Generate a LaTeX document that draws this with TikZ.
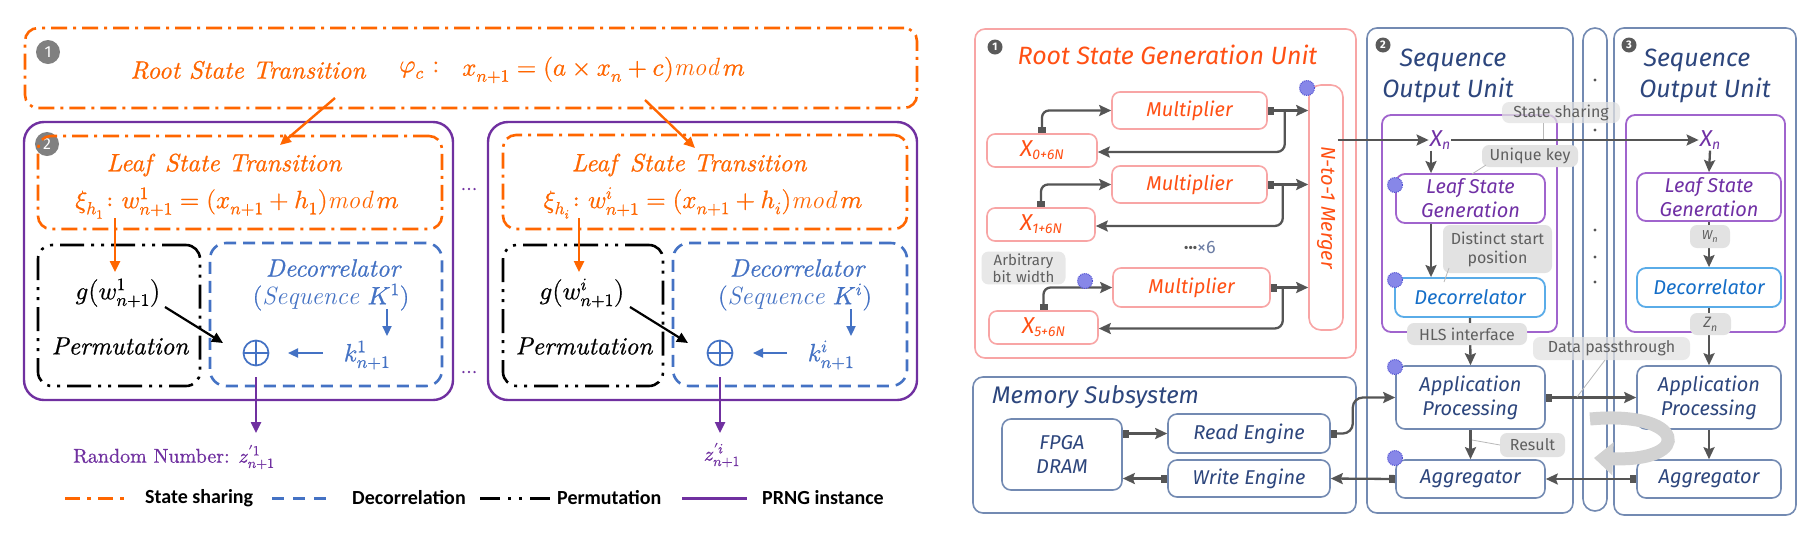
\documentclass[tikz,border=0pt]{standalone}
\usepackage{amsmath}
\usepackage{fontspec}
\usepackage{unicode-math}
\setmathfont{latinmodern-math.otf}[FakeBold=0.7]
\newfontfamily\lft{lmroman10-regular.otf}[ItalicFont=lmroman10-italic.otf, FakeBold=0.7]
\newfontfamily\legendfont{Carlito}
\newfontfamily\rfont{Fira Sans}
\usetikzlibrary{arrows.meta,calc}

\definecolor{lorange}{RGB}{255,102,0}
\definecolor{lpurple}{RGB}{112,48,160}
\definecolor{lblue}{RGB}{68,114,196}
\definecolor{rorange}{RGB}{255,80,20}
\definecolor{rpink}{RGB}{248,165,165}
\definecolor{rnavy}{RGB}{45,70,125}
\definecolor{rframe}{RGB}{115,138,178}
\definecolor{rpurple}{RGB}{160,100,205}
\definecolor{rpurtext}{RGB}{112,48,165}
\definecolor{rdecb}{RGB}{90,172,232}
\definecolor{rdect}{RGB}{20,110,200}
\definecolor{rgrayl}{RGB}{85,85,85}
\definecolor{callfill}{RGB}{226,226,226}
\definecolor{calltext}{RGB}{95,95,95}
\definecolor{badgeg}{RGB}{128,128,128}
\definecolor{rbadgec}{RGB}{90,90,90}
\definecolor{gearb}{RGB}{135,135,232}
\definecolor{gearl}{RGB}{80,80,210}

\tikzset{
  wh/.style 2 args={minimum width=#1pt, minimum height=#2pt, inner sep=0pt},
  ltext/.style={font=\lft\fontsize{25}{30}\selectfont, inner sep=1pt},
  ltexts/.style={font=\lft\fontsize{20}{24}\selectfont, inner sep=1pt},
  rootbox/.style={draw=lorange, line width=2.6pt, dash pattern=on 16pt off 6pt on 3pt off 6pt, rounded corners=13pt},
  instbox/.style={draw=lpurple, line width=2.4pt, rounded corners=20pt},
  permbox/.style={draw=black, line width=2.6pt, dash pattern=on 24pt off 7pt on 3pt off 7pt on 3pt off 7pt, rounded corners=14pt},
  decbox/.style={draw=lblue, line width=2.6pt, dash pattern=on 12pt off 7pt, rounded corners=16pt},
  oarr/.style={draw=lorange, line width=2.4pt, -{Triangle[length=11pt,width=10pt]}},
  barr/.style={draw=lblue, line width=2.2pt, -{Triangle[length=10pt,width=9pt]}},
  karr/.style={draw=black, line width=2.2pt, -{Triangle[length=11pt,width=10pt]}},
  parr/.style={draw=lpurple, line width=2.4pt, -{Triangle[length=11pt,width=10pt]}},
  lbadge/.style={circle, fill=badgeg, text=white, minimum size=24pt, inner sep=0pt, font=\rfont\fontsize{16}{16}\selectfont},
  xorn/.style={circle, draw=lblue, line width=1.7pt, minimum size=25pt, inner sep=0pt,
    path picture={\draw[lblue, line width=1.7pt] (path picture bounding box.north) -- (path picture bounding box.south) (path picture bounding box.west) -- (path picture bounding box.east);}},
  legtext/.style={font=\legendfont\bfseries\fontsize{20}{24}\selectfont, anchor=west, inner sep=0pt},
  pinkbox/.style={draw=rpink, line width=1.6pt, rounded corners=8pt},
  framebox/.style={draw=rframe, line width=1.6pt, rounded corners=9pt},
  purbox/.style={draw=rpurple, line width=1.8pt, rounded corners=9pt},
  decrbox/.style={draw=rdecb, line width=1.8pt, rounded corners=9pt},
  callout/.style={fill=callfill, rounded corners=7pt, text=calltext, font=\rfont\fontsize{16}{19}\selectfont, align=center},
  callline/.style={draw=gray!55, line width=0.8pt},
  garr/.style={draw=rgrayl, line width=2.3pt, -{Stealth[length=12pt,width=11pt,inset=2pt]}},
  sqarr/.style={draw=rgrayl, line width=2.3pt, {Square[length=6pt,width=8pt]}-{Stealth[length=12pt,width=11pt,inset=2pt]}},
  rbadge/.style={circle, fill=rbadgec, text=white, minimum size=15pt, inner sep=0pt, font=\rfont\bfseries\fontsize{11}{11}\selectfont},
  gear/.style={circle, fill=gearb, draw=gearl, line width=1pt, densely dotted, minimum size=15pt, inner sep=0pt},
  rtitle/.style={font=\rfont\itshape\fontsize{25}{30}\selectfont, inner sep=0pt},
  rbox/.style={font=\rfont\itshape\fontsize{20}{24}\selectfont, align=center, inner sep=0pt},
}

\begin{document}
\begin{tikzpicture}[x=1pt,y=-1pt]
\fill[white] (0,0) rectangle (1820,550);
\useasboundingbox (0,0) rectangle (1820,550);

%================ LEFT PANEL =================
\node[rootbox, wh={892}{80}] (root) at (471,68) {};
\node[lbadge] (b1) at (48,52) {1};
\node[ltext, text=lorange] (roott) at (248,70) {\itshape Root State Transition};
\node[ltext, text=lorange, anchor=west] (rootphi) at (398,70) {$\varphi_c$ :};
\node[ltext, text=lorange, anchor=west] (rootf) at (461,70) {$x_{n+1} = (a\times x_n + c)\mathit{mod}\,m$};

% instance 1
\node[instbox, wh={429}{278}] (inst1) at (238.5,261) {};
\node[lbadge] (b2) at (47,144) {2};
\node[rootbox, wh={404}{93}] (leaf1) at (240,182.5) {};
\node[ltext, text=lorange] (leaf1t) at (224,165) {\itshape Leaf\, State Transition};
\node[ltext, text=lorange] (leaf1f) at (237,203) {$\xi_{h_1}\colon w^1_{n+1} = (x_{n+1} + h_1)\mathit{mod}\,m$};
\node[permbox, wh={162}{141}] (perm1) at (119,315.5) {};
\node[decbox, wh={232}{143}] (dec1) at (326,314.5) {};
\node[ltext] (g1) at (118,293) {$g\big(w^1_{n+1}\big)$};
\node[ltext] (perm1t) at (120,346) {\itshape Permutation};
\node[ltext, text=lblue] (dec1t) at (333,268) {\itshape Decorrelator};
\node[ltext, text=lblue] (seq1) at (331,297) {$(\mathit{Sequence}\ K^1)$};
\node[ltext, text=lblue] (k1) at (367,355) {$k^1_{n+1}$};
\node[xorn] (xor1) at (256,353) {};
\node[ltexts, text=lpurple, anchor=west] (rn1) at (72,457) {Random Number: $z'^{1}_{n+1}$};

\coordinate (r1a) at (335,98);  \coordinate (r1b) at (280,145);
\coordinate (l1a) at (115,218); \coordinate (l1b) at (115,272);
\coordinate (g1a) at (165,307); \coordinate (g1b) at (223,343);
\coordinate (k1a) at (387,309); \coordinate (k1b) at (387,336);
\coordinate (k1c) at (323,353); \coordinate (k1d) at (288,353);
\coordinate (z1a) at (256,377); \coordinate (z1b) at (256,433);
\draw[oarr] (r1a) -- (r1b);
\draw[oarr] (l1a) -- (l1b);
\draw[karr] (g1a) -- (g1b);
\draw[barr] (k1a) -- (k1b);
\draw[barr] (k1c) -- (k1d);
\draw[parr] (z1a) -- (z1b);

% dots between instances
\node[ltexts, text=lpurple] (dd1) at (469,191) {$\cdots$};
\node[ltexts, text=lpurple] (dd2) at (469,374) {$\cdots$};

% instance i
\node[instbox, wh={429}{278}] (inst2) at (702.5,261) {};
\node[rootbox, wh={404}{94}] (leaf2) at (705,182) {};
\node[ltext, text=lorange] (leaf2t) at (689,165) {\itshape Leaf\, State Transition};
\node[ltext, text=lorange] (leaf2f) at (703,203) {$\xi_{h_i}\colon w^i_{n+1} = (x_{n+1} + h_i)\mathit{mod}\,m$};
\node[permbox, wh={160}{141}] (perm2) at (583,315.5) {};
\node[decbox, wh={234}{143}] (dec2) at (790,314.5) {};
\node[ltext] (g2) at (582,293) {$g\big(w^i_{n+1}\big)$};
\node[ltext] (perm2t) at (584,346) {\itshape Permutation};
\node[ltext, text=lblue] (dec2t) at (797,268) {\itshape Decorrelator};
\node[ltext, text=lblue] (seq2) at (795,297) {$(\mathit{Sequence}\ K^i)$};
\node[ltext, text=lblue] (k2) at (831,355) {$k^i_{n+1}$};
\node[xorn] (xor2) at (720,353) {};
\node[ltexts, text=lpurple] (rn2) at (722,455) {$z'^{i}_{n+1}$};

\coordinate (r2a) at (645,100); \coordinate (r2b) at (695,148);
\coordinate (l2a) at (579,218); \coordinate (l2b) at (579,272);
\coordinate (g2a) at (630,307); \coordinate (g2b) at (688,343);
\coordinate (k2a) at (851,309); \coordinate (k2b) at (851,336);
\coordinate (k2c) at (787,353); \coordinate (k2d) at (753,353);
\coordinate (z2a) at (720,377); \coordinate (z2b) at (720,433);
\draw[oarr] (r2a) -- (r2b);
\draw[oarr] (l2a) -- (l2b);
\draw[karr] (g2a) -- (g2b);
\draw[barr] (k2a) -- (k2b);
\draw[barr] (k2c) -- (k2d);
\draw[parr] (z2a) -- (z2b);

% legend
\coordinate (lg1a) at (65,498);  \coordinate (lg1b) at (126,498);
\coordinate (lg2a) at (272,498); \coordinate (lg2b) at (332,498);
\coordinate (lg3a) at (480,498); \coordinate (lg3b) at (550,498);
\coordinate (lg4a) at (682,498); \coordinate (lg4b) at (747,498);
\draw[draw=lorange, line width=3pt, dash pattern=on 15pt off 7pt on 4pt off 7pt] (lg1a) -- (lg1b);
\draw[draw=lblue, line width=3pt, dash pattern=on 12pt off 9pt] (lg2a) -- (lg2b);
\draw[draw=black, line width=3pt, dash pattern=on 20pt off 8pt on 3pt off 8pt on 3pt off 8pt] (lg3a) -- (lg3b);
\draw[draw=lpurple, line width=3pt] (lg4a) -- (lg4b);
\node[legtext] (lt1) at (145,498) {State sharing};
\node[legtext] (lt2) at (352,498) {Decorrelation};
\node[legtext] (lt3) at (557,498) {Permutation};
\node[legtext] (lt4) at (762,498) {PRNG instance};

%================ RIGHT PANEL =================
% root state generation unit
\node[pinkbox, rounded corners=10pt, wh={381}{329}] (rsgu) at (1165.5,193.5) {};
\node[rbadge] (rb1) at (995,47) {1};
\node[rtitle, text=rorange] (rsgut) at (1167.5,55) {Root State Generation Unit};
\node[pinkbox, wh={155}{37}] (mult1) at (1189.5,110.5) {};
\node[pinkbox, wh={155}{37}] (mult2) at (1189.5,184.5) {};
\node[pinkbox, wh={157}{39}] (mult3) at (1191.5,287.5) {};
\node[rbox, text=rorange] at (mult1) {Multiplier};
\node[rbox, text=rorange] at (mult2) {Multiplier};
\node[rbox, text=rorange] at (mult3) {Multiplier};
\node[pinkbox, wh={110}{33}] (x0) at (1042,150.5) {};
\node[pinkbox, wh={108}{33}] (x1) at (1041,224.5) {};
\node[pinkbox, wh={109}{33}] (x5) at (1043.5,327.5) {};
\node[text=rorange, inner sep=0pt] at (x0) {\rfont\itshape\fontsize{23}{23}\selectfont X\fontsize{14}{14}\selectfont\raisebox{-3pt}{0+6N}};
\node[text=rorange, inner sep=0pt] at (x1) {\rfont\itshape\fontsize{23}{23}\selectfont X\fontsize{14}{14}\selectfont\raisebox{-3pt}{1+6N}};
\node[text=rorange, inner sep=0pt] at (x5) {\rfont\itshape\fontsize{23}{23}\selectfont X\fontsize{14}{14}\selectfont\raisebox{-3pt}{5+6N}};
\node[pinkbox, rounded corners=12pt, wh={34}{245}] (merger) at (1326,207.5) {};
\node[rbox, text=rorange, rotate=-90] (mergert) at (merger) {N-to-1 Merger};
\node[inner sep=0pt, text=rgrayl] (times6) at (1200,247) {\rfont\fontsize{18}{18}\selectfont\textbf{···}\textcolor{rnavy!70}{×6}};
\node[callout, fill=callfill!80, text width=80pt, inner sep=2pt, font=\rfont\fontsize{15}{17}\selectfont] (arb) at (1023.5,268) {Arbitrary\\bit width};

\draw[sqarr, rounded corners=7pt] (x0.north) |- (mult1.west);
\draw[sqarr, rounded corners=7pt] (x1.north) |- (mult2.west);
\draw[sqarr, rounded corners=7pt] (x5.north) |- (mult3.west);
\draw[sqarr] (mult1.east) -- (mult1.east -| merger.west);
\draw[sqarr] (mult2.east) -- (mult2.east -| merger.west);
\draw[sqarr] (mult3.east) -- (mult3.east -| merger.west);
\draw[garr, rounded corners=8pt] ($(mult1.east)+(17,0)$) |- ($(x0.east)+(0,1.5)$);
\draw[garr, rounded corners=8pt] ($(mult2.east)+(15,0)$) |- ($(x1.east)+(0,1.5)$);
\draw[garr, rounded corners=8pt] ($(mult3.east)+(12,0)$) |- ($(x5.east)+(0,1)$);
\node[gear] (gm) at (1307,88) {};
\node[gear] (gm3) at (1085,281) {};

% memory subsystem
\node[framebox, rounded corners=10pt, wh={383}{136}] (mem) at (1164.5,445) {};
\node[rtitle, text=rnavy, anchor=west, font=\rfont\itshape\fontsize{24}{28}\selectfont] (memt) at (992,397) {Memory Subsystem};
\node[framebox, wh={120}{71}] (fpga) at (1062,454.5) {};
\node[rbox, text=rnavy] at (fpga) {FPGA\\DRAM};
\node[framebox, wh={162}{39}] (read) at (1249,433.5) {};
\node[rbox, text=rnavy] at (read) {Read Engine};
\node[framebox, wh={162}{37}] (write) at (1249,478.5) {};
\node[rbox, text=rnavy] at (write) {Write Engine};
\draw[sqarr] (fpga.east |- read.west) -- (read.west);
\draw[sqarr] (write.west) -- (fpga.east |- write.west);

% sequence output units
\node[framebox, rounded corners=10pt, wh={206}{485}] (sou2) at (1470,270.5) {};
\node[framebox, rounded corners=12pt, wh={24}{483}] (dotcol) at (1595,269.5) {};
\node[framebox, rounded corners=10pt, wh={182}{487}] (sou3) at (1705,271.5) {};
\foreach \yy in {80,130,230,257,282} \fill[rgrayl] (1595,\yy) circle (1.6pt);
\node[rbadge] (rb2) at (1383,45) {2};
\node[rbadge] (rb3) at (1629,45) {3};
\node[rtitle, text=rnavy] (s2a) at (1453,60) {Sequence};
\node[rtitle, text=rnavy] (s2b) at (1448,90) {Output Unit};
\node[rtitle, text=rnavy] (s3a) at (1697,60) {Sequence};
\node[rtitle, text=rnavy] (s3b) at (1705,90) {Output Unit};

\node[purbox, wh={175}{217}] (pur2) at (1469.5,223.5) {};
\node[purbox, wh={159}{217}] (pur3) at (1705.5,223.5) {};

\node[rbox, text=rpurtext, font=\rfont\itshape\fontsize{23}{23}\selectfont, inner sep=1pt] (xn2) at (1440,140) {X\fontsize{14}{14}\selectfont\raisebox{-3pt}{n}};
\node[rbox, text=rpurtext, font=\rfont\itshape\fontsize{23}{23}\selectfont, inner sep=1pt] (xn3) at (1710,140) {X\fontsize{14}{14}\selectfont\raisebox{-3pt}{n}};

\node[purbox, wh={149}{49}] (lsg2) at (1470.5,198.5) {};
\node[rbox, text=rpurtext] at (lsg2) {Leaf State\\Generation};
\node[decrbox, wh={150}{39}] (dec2r) at (1470,297.5) {};
\node[rbox, text=rdect] at (dec2r) {Decorrelator};
\node[framebox, wh={149}{63}] (app2) at (1470.5,397.5) {};
\node[rbox, text=rnavy] at (app2) {Application\\Processing};
\node[framebox, wh={149}{38}] (agg2) at (1470.5,479) {};
\node[rbox, text=rnavy] at (agg2) {Aggregator};

\node[purbox, wh={144}{48}] (lsg3) at (1709,197) {};
\node[rbox, text=rpurtext] at (lsg3) {Leaf State\\Generation};
\node[decrbox, wh={144}{39}] (dec3r) at (1709,287.5) {};
\node[rbox, text=rdect] at (dec3r) {Decorrelator};
\node[framebox, wh={144}{63}] (app3) at (1709,397.5) {};
\node[rbox, text=rnavy] at (app3) {Application\\Processing};
\node[framebox, wh={144}{38}] (agg3) at (1709,479) {};
\node[rbox, text=rnavy] at (agg3) {Aggregator};

% connectors in output units
\draw[garr] ($(merger.east |- xn2.west)+(-6,0)$) -- (xn2.west);
\draw[garr] (xn2.east) -- (xn3.west);
\draw[garr] ($(xn2.south)+(-9,0)$) -- ($(lsg2.north)+(-39.5,0)$);
\draw[garr] ($(lsg2.south)+(-39.5,0)$) -- ($(dec2r.north)+(-39,0)$);
\draw[garr] (dec2r.south) -- (app2.north);
\draw[garr] (app2.south) -- (agg2.north);
\draw[sqarr] (app2.east) -- (app3.west);
\draw[sqarr] (agg3.west) -- (agg2.east);
\draw[sqarr] (agg2.west) -- (write.east);
\draw[sqarr, rounded corners=10pt] (read.east) -- ++(22,0) |- (app2.west);
\draw[garr] (xn3.south) -- (lsg3.north);
\draw[garr] (lsg3.south) -- (dec3r.north);
\draw[garr] (dec3r.south) -- (app3.north);
\draw[garr] (app3.south) -- (agg3.north);

% U-turn arrow
\coordinate (ua) at (1590,419);
\coordinate (ub) at (1594,458);
\draw[line width=13pt, draw=gray!35, -{Triangle[length=19pt,width=32pt]}] (ua) .. controls (1685,410) and (1695,462) .. (ub);

% callouts
\node[callout, fill opacity=0.75, text opacity=1, wh={118}{21}] (cstate) at (1561,112.5) {State sharing};
\node[callout, wh={96}{22}] (cuniq) at (1530,156) {Unique key};
\node[callout, wh={109}{48}] (cdist) at (1497.5,249) {Distinct start\\position};
\node[callout, wh={120}{22}] (chls) at (1467,334) {HLS interface};
\node[callout, fill opacity=0.75, text opacity=1, wh={157}{23}] (cdata) at (1611.5,348.5) {Data passthrough};
\node[callout, wh={65}{24}] (cres) at (1532.5,445) {Result};
\node[callout, wh={40}{23}, font=\rfont\itshape\fontsize{13}{13}\selectfont] (cwn) at (1710,236.5) {W\textsubscript{n}};
\node[callout, wh={41}{22}, font=\rfont\itshape\fontsize{15}{15}\selectfont] (czn) at (1710.5,324) {Z\textsubscript{n}};

\coordinate (p1a) at (1543,123); \coordinate (p1b) at (1543,139);
\coordinate (p2a) at (1486,165); \coordinate (p2b) at (1472,174);
\coordinate (p3a) at (1449,268); \coordinate (p3b) at (1444,282);
\coordinate (p4a) at (1605,360); \coordinate (p4b) at (1577,397);
\coordinate (p5a) at (1500,445); \coordinate (p5b) at (1472,440);
\draw[callline] (p1a) -- (p1b);
\draw[callline] (p2a) -- (p2b);
\draw[callline] (p3a) -- (p3b);
\draw[callline] (p4a) -- (p4b);
\draw[callline] (p5a) -- (p5b);

% gear badges
\node[gear] (g_lsg) at (1395,185) {};
\node[gear] (g_dec) at (1395,280) {};
\node[gear] (g_app) at (1395,367) {};
\node[gear] (g_agg) at (1395,458) {};
\end{tikzpicture}
\end{document}
